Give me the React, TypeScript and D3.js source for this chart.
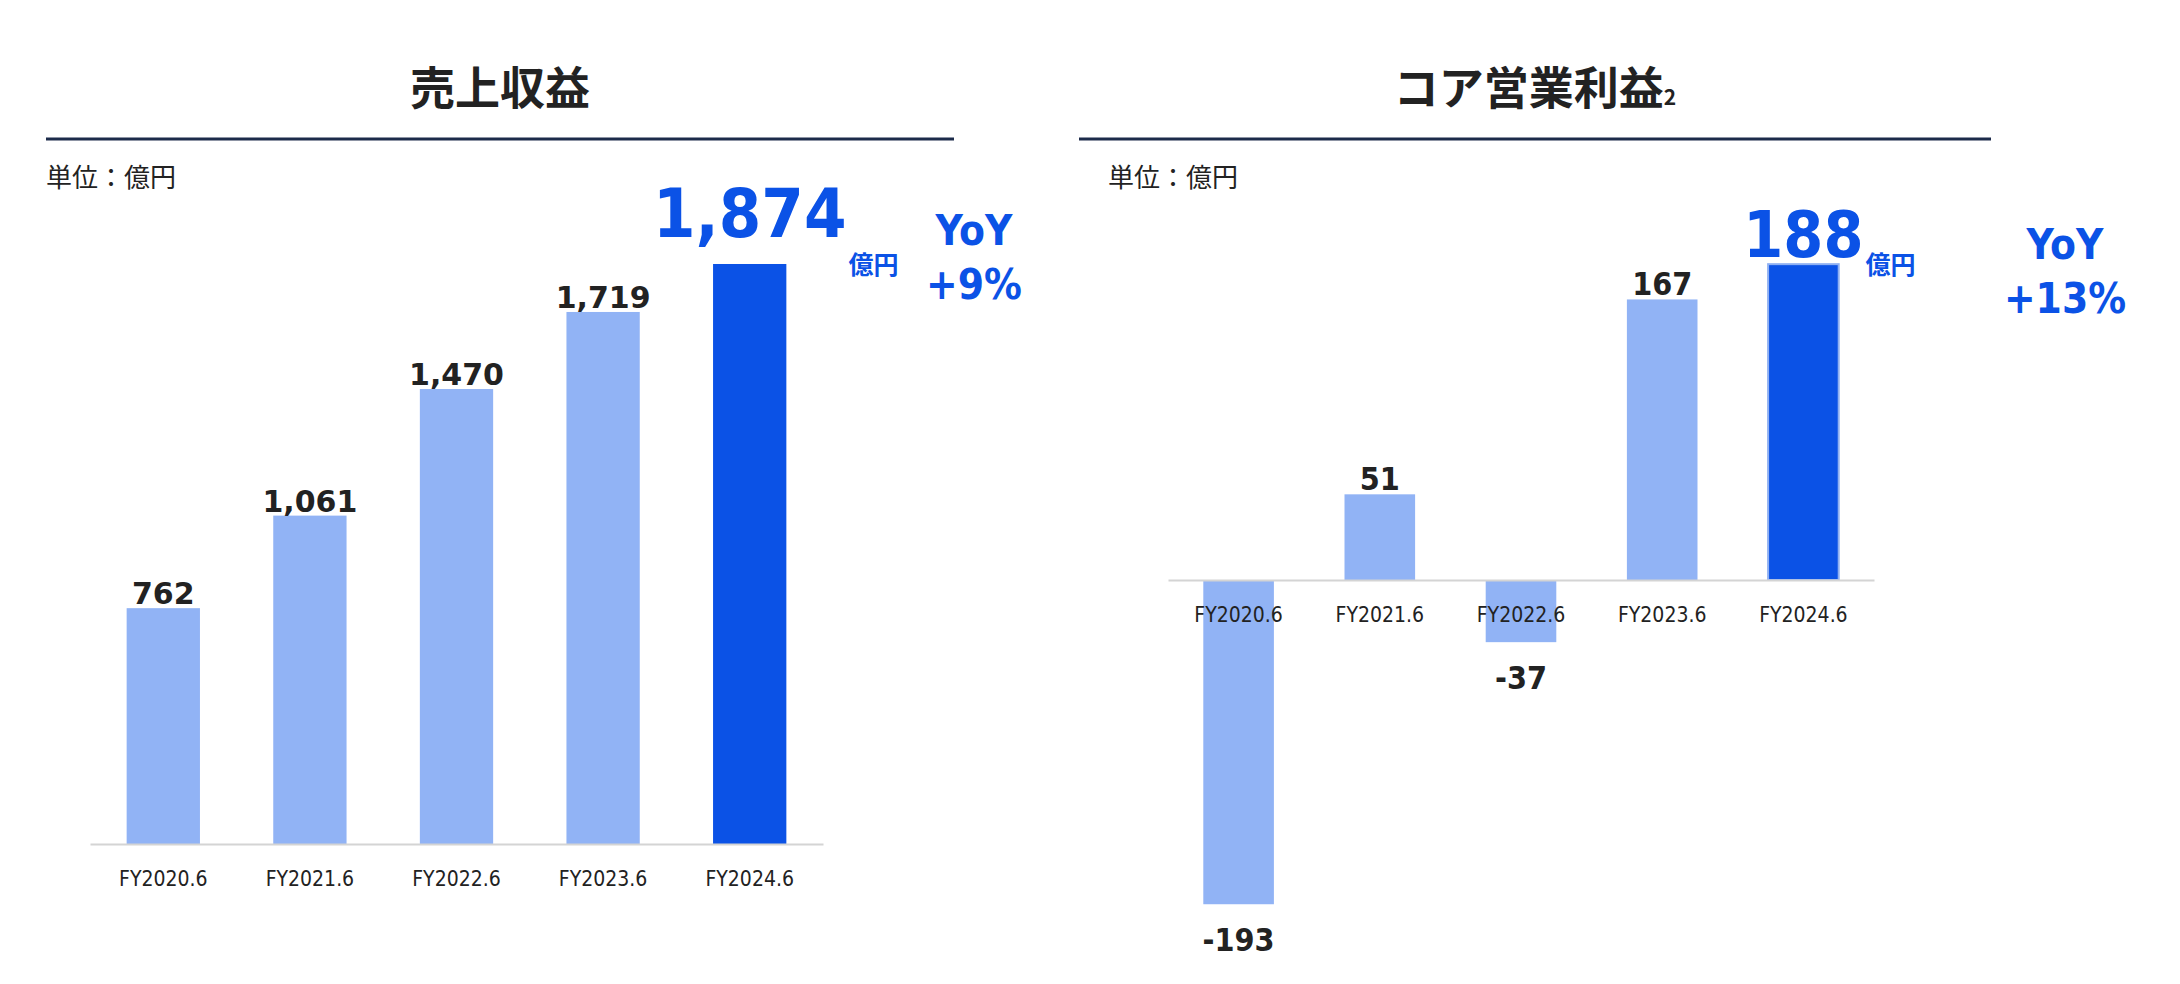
import React, { useEffect, useRef } from 'react'
import * as d3 from 'd3'

// ---- data ----
const CATEGORIES = ['FY2020.6', 'FY2021.6', 'FY2022.6', 'FY2023.6', 'FY2024.6']
const REVENUE = [762, 1061, 1470, 1719, 1874]
const CORE_PROFIT = [-193, 51, -37, 167, 188]
const YOY = ['+9%', '+13%']
const TITLES = ['売上収益', 'コア営業利益']
const TITLE_NOTES = ['', '2']
const UNIT_LABEL = '単位：億円'
const UNIT = '億円'

const W = 2180
const H = 984

const LIGHT = '#91b3f5'
const DARK = '#0b52e6'
const INK = '#222222'
const RULE = '#1c2b4a'
const AXIS = '#d4d4d4'

const JP = '"Noto Sans CJK JP", "Noto Sans CJK SC", sans-serif'
const NUM = '"DejaVu Sans Condensed", "DejaVu Sans", Verdana, sans-serif'
const NUM_WIDE = '"DejaVu Sans", Verdana, sans-serif'

// plain hyphen for negatives, like the slide
const fmt = d3.formatLocale({ decimal: '.', thousands: ',', grouping: [3], currency: ['', ''], minus: '-' }).format(',')

// layout of the two panels (positions only, values come from the arrays above)
const PANELS = [
  {
    values: REVENUE, title: TITLES[0], note: TITLE_NOTES[0], yoy: YOY[0],
    rule: [46, 954], unitX: 46, x: [90, 823], domain: [0, 2000], range: [844, 225],
    labelFont: NUM_WIDE, labelSize: 30, bigSize: 68, bigGap: 27, hiStroke: 'none',
    yoyX: 974, yoyY: 245,
  },
  {
    values: CORE_PROFIT, title: TITLES[1], note: TITLE_NOTES[1], yoy: YOY[1],
    rule: [1079, 1991], unitX: 1108, x: [1168, 1874], domain: [-200, 200], range: [916, 244],
    labelFont: NUM, labelSize: 32, bigSize: 64, bigGap: 7, hiStroke: '#8fb0f2',
    yoyX: 2065, yoyY: 259,
  },
]

export default function App() {
  const svgRef = useRef<SVGSVGElement | null>(null)

  useEffect(() => {
    if (!svgRef.current) return
    const svg = d3.select(svgRef.current)
    svg.selectAll('*').remove()

    svg.append('rect').attr('width', W).attr('height', H).attr('fill', '#ffffff')

    PANELS.forEach(p => {
      const g = svg.append('g')
      const mid = (p.rule[0] + p.rule[1]) / 2

      // title (+ footnote mark)
      const t = g.append('text')
        .attr('x', mid).attr('y', 105).attr('text-anchor', 'middle')
        .attr('font-family', JP).attr('font-weight', 700).attr('font-size', 45).attr('fill', INK)
      t.append('tspan').text(p.title)
      if (p.note) t.append('tspan').attr('font-size', 21).text(p.note)

      g.append('line')
        .attr('x1', p.rule[0]).attr('x2', p.rule[1]).attr('y1', 139).attr('y2', 139)
        .attr('stroke', RULE).attr('stroke-width', 3)

      g.append('text')
        .attr('x', p.unitX).attr('y', 187)
        .attr('font-family', JP).attr('font-size', 26).attr('fill', INK)
        .text(UNIT_LABEL)

      const x = d3.scaleBand<string>().domain(CATEGORIES).range(p.x as [number, number])
        .paddingInner(0.5).paddingOuter(0.25)
      const y = d3.scaleLinear().domain(p.domain).range(p.range)
      const last = p.values.length - 1

      // bars
      g.selectAll('.bar')
        .data(p.values)
        .join('rect').attr('class', 'bar')
        .attr('x', (d, i) => x(CATEGORIES[i]) as number)
        .attr('width', x.bandwidth())
        .attr('y', d => Math.min(y(d), y(0)))
        .attr('height', d => Math.abs(y(d) - y(0)))
        .attr('fill', (d, i) => (i === last ? DARK : LIGHT))
        .attr('stroke', (d, i) => (i === last ? p.hiStroke : 'none'))
        .attr('stroke-width', 2)

      // category axis along zero
      const ax = g.append('g')
        .attr('transform', `translate(0,${y(0)})`)
        .call(d3.axisBottom(x).tickSize(0).tickSizeOuter(0).tickPadding(27))
      ax.select('.domain').attr('stroke', AXIS).attr('stroke-width', 2)
      ax.selectAll('text')
        .attr('fill', INK).attr('font-size', 21).attr('font-family', NUM)

      // value labels
      g.selectAll('.val')
        .data(p.values.slice(0, last))
        .join('text').attr('class', 'val')
        .attr('x', (d, i) => (x(CATEGORIES[i]) as number) + x.bandwidth() / 2)
        .attr('y', d => (d >= 0 ? y(d) - 4 : y(d) + 47))
        .attr('text-anchor', 'middle')
        .attr('font-family', p.labelFont).attr('font-weight', 700)
        .attr('font-size', p.labelSize).attr('fill', INK)
        .text(d => fmt(d))

      // highlighted latest value
      const v = p.values[last]
      const cx = (x(CATEGORIES[last]) as number) + x.bandwidth() / 2
      const big = g.append('text')
        .attr('x', cx).attr('y', y(v) - p.bigGap)
        .attr('text-anchor', 'middle')
        .attr('font-family', NUM).attr('font-weight', 700)
        .attr('font-size', p.bigSize).attr('fill', DARK)
        .text(fmt(v))
      const bb = (big.node() as SVGTextElement).getBBox()
      g.append('text')
        .attr('x', bb.x + bb.width + 2).attr('y', y(v) + 10)
        .attr('font-family', JP).attr('font-weight', 700)
        .attr('font-size', 25).attr('fill', DARK)
        .text(UNIT)

      // YoY
      const yoy = g.append('text')
        .attr('text-anchor', 'middle')
        .attr('font-family', NUM).attr('font-weight', 700)
        .attr('font-size', 42).attr('fill', DARK)
      yoy.append('tspan').attr('x', p.yoyX).attr('y', p.yoyY).text('YoY')
      yoy.append('tspan').attr('x', p.yoyX).attr('y', p.yoyY + 54).text(p.yoy)
    })
  }, [])

  return (
    <svg
      ref={svgRef}
      width={W}
      height={H}
      style={{ position: 'absolute', left: 0, top: 0, display: 'block' }}
    />
  )
}
